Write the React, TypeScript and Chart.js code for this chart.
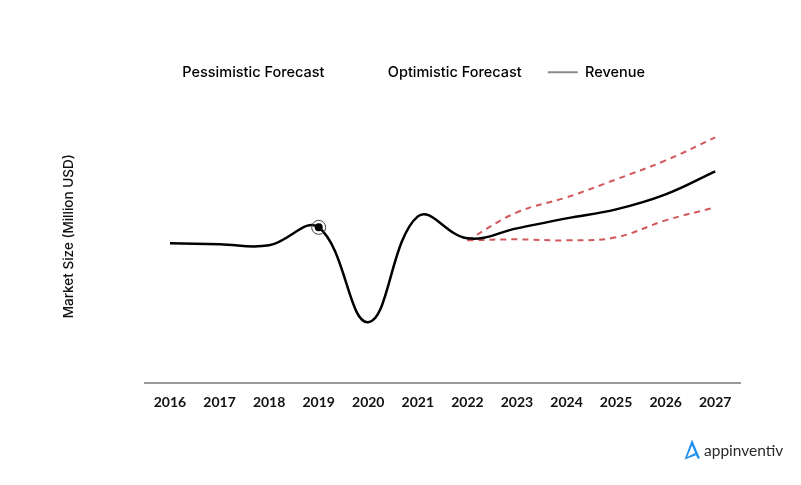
import React, { useEffect, useRef } from "react";
import { Chart, registerables } from "chart.js";

Chart.register(...registerables);

const years = ["2016", "2017", "2018", "2019", "2020", "2021", "2022", "2023", "2024", "2025", "2026", "2027"];
const revenue = [70, 69.5, 69, 78, 30.5, 83.5, 72.5, 77.5, 82.5, 87, 94.5, 106];
const optimistic = [null, null, null, null, null, null, 71.5, 85.5, 93, 102, 111.5, 123];
const pessimistic = [null, null, null, null, null, null, 71.5, 72, 71.5, 73, 81.5, 88];
const highlightIndex = 3;
const yMax = 147;

const FONT = "Lato, 'Noto Sans', sans-serif";
const FONT2 = "Inter, 'Noto Sans', sans-serif";
const RED = "#d1585c";

export default function App() {
  const ref = useRef<HTMLCanvasElement | null>(null);
  useEffect(() => {
    if (!ref.current) return;
    const highlight = revenue.map((v, i) => (i === highlightIndex ? v : null));
    const chart = new Chart(ref.current, {
      type: "line",
      data: {
        labels: years,
        datasets: [
          {
            label: "Pessimistic Forecast",
            data: pessimistic,
            borderColor: RED,
            borderWidth: 2,
            borderDash: [6, 5],
            pointRadius: 0,
            tension: 0.4,
            order: 2,
          },
          {
            label: "Optimistic Forecast",
            data: optimistic,
            borderColor: RED,
            borderWidth: 2,
            borderDash: [6, 5],
            pointRadius: 0,
            tension: 0.4,
            order: 3,
          },
          {
            label: "Revenue",
            data: revenue,
            borderColor: "#000",
            borderWidth: 2.5,
            pointRadius: revenue.map((_, i) => (i === highlightIndex ? 4 : 0)),
            pointBackgroundColor: "#000",
            pointBorderWidth: 0,
            tension: 0.4,
            order: 1,
          },
          {
            label: "highlight",
            data: highlight,
            showLine: false,
            pointRadius: 7,
            pointBackgroundColor: "rgba(0,0,0,0)",
            pointBorderColor: "#444",
            pointBorderWidth: 1,
            order: 0,
          },
        ],
      },
      options: {
        animation: false,
        responsive: true,
        maintainAspectRatio: false,
        layout: { padding: { top: 31, right: 53, bottom: 55, left: 42 } },
        plugins: {
          tooltip: { enabled: false },
          legend: {
            position: "top",
            labels: {
              boxWidth: 30,
              boxHeight: 2,
              padding: 26,
              color: "#111",
              font: { family: FONT2, size: 14.5, weight: "500" },
              generateLabels: (c: any) =>
                [0, 1, 2].map((i) => ({
                  text: c.data.datasets[i].label,
                  fillStyle: i === 2 ? "#8a8a8a" : "rgba(0,0,0,0)",
                  strokeStyle: "rgba(0,0,0,0)",
                  lineWidth: 0,
                  hidden: false,
                  datasetIndex: i,
                })),
            },
          },
        },
        scales: {
          x: {
            offset: true,
            grid: { display: false, drawTicks: false },
            border: { display: true, color: "#9a9a9a", width: 2 },
            ticks: {
              padding: 11,
              color: "#111",
              font: { family: FONT, size: 14, weight: "700" },
            },
          },
          y: {
            min: 0,
            max: yMax,
            grid: { display: false, drawTicks: false },
            border: { display: false },
            ticks: { display: false },
            title: {
              display: true,
              text: "Market Size (Million USD)",
              color: "#111",
              font: { family: FONT2, size: 13.5, weight: "500" },
              padding: { top: 11, bottom: 68 },
            },
          },
        },
      },
    });
    return () => chart.destroy();
  }, []);

  return (
    <div style={{ position: "relative", width: 785, height: 469 }}>
      <canvas ref={ref} />
      <div
        style={{
          position: "absolute",
          left: 676,
          top: 431,
          display: "flex",
          alignItems: "center",
          fontFamily: FONT,
          fontSize: 15.5,
          color: "#2a2a2a",
        }}
      >
        <svg width="16" height="21" viewBox="0 0 16 20" style={{ marginRight: 4 }}>
          <path d="M8 0 L16 19 L13.5 19 L8 6 L3.2 17.5 L11 13.5 L12 15.8 L0.5 20 Z" fill="#1e8ef0" />
        </svg>
        <span>appinventiv</span>
      </div>
    </div>
  );
}
